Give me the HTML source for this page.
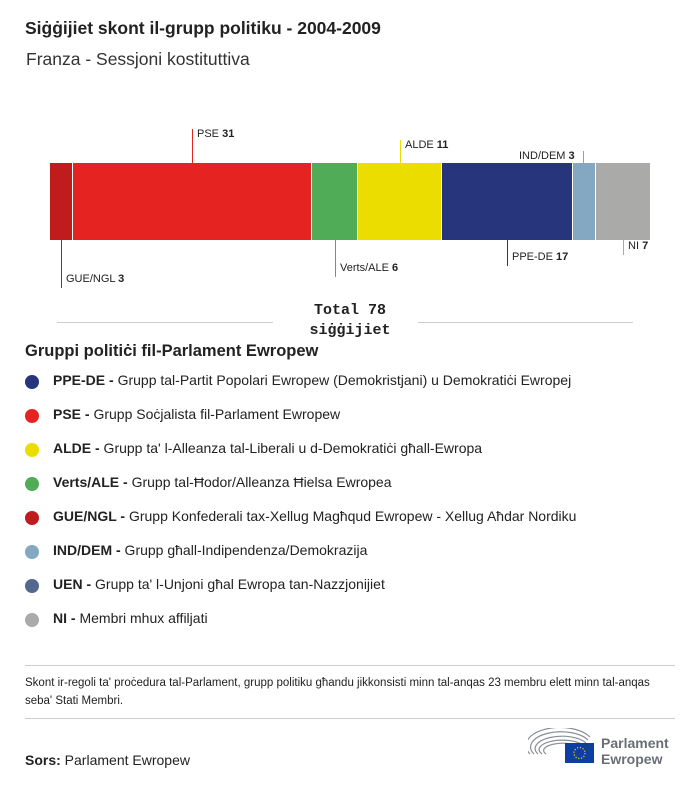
<!DOCTYPE html>
<html><head><meta charset="utf-8"><style>
body{margin:0;width:700px;height:786px;background:#fff;font-family:"Liberation Sans",sans-serif;color:#222;position:relative;overflow:hidden}
.a{position:absolute;white-space:nowrap}
.lb{font-size:11px;position:absolute;white-space:nowrap}
.vl{position:absolute;width:1px}
.it{position:absolute;left:53px;font-size:14px;white-space:nowrap}
.dot{position:absolute;left:25px;width:14px;height:14px;border-radius:50%}
</style></head><body>
<div class="a" style="left:25px;top:18px;font-size:17.5px;font-weight:bold">Siġġijiet skont il-grupp politiku - 2004-2009</div>
<div class="a" style="left:26px;top:49px;font-size:17.5px;color:#333">Franza - Sessjoni kostituttiva</div>

<div style="position:absolute;top:163px;height:77px;left:50px;width:22px;background:#c01c1e"></div>
<div style="position:absolute;top:163px;height:77px;left:73px;width:238px;background:#e52421"></div>
<div style="position:absolute;top:163px;height:77px;left:312px;width:45px;background:#50ac56"></div>
<div style="position:absolute;top:163px;height:77px;left:358px;width:83px;background:#ebdd00"></div>
<div style="position:absolute;top:163px;height:77px;left:442px;width:130px;background:#27357c"></div>
<div style="position:absolute;top:163px;height:77px;left:573px;width:22px;background:#84a8c1"></div>
<div style="position:absolute;top:163px;height:77px;left:596px;width:54px;background:#aaaaa9"></div>

<div class="vl" style="left:192px;top:129px;height:34px;background:#e52421"></div>
<div class="lb" style="left:197px;top:128px">PSE <b>31</b></div>
<div class="vl" style="left:400px;top:140px;height:23px;background:#ebdd00"></div>
<div class="lb" style="left:405px;top:139px">ALDE <b>11</b></div>
<div class="vl" style="left:583px;top:151px;height:12px;background:#84a8c1"></div>
<div class="lb" style="left:519px;top:150px">IND/DEM <b>3</b></div>
<div class="vl" style="left:61px;top:240px;height:48px;background:#c01c1e"></div>
<div class="lb" style="left:66px;top:273px">GUE/NGL <b>3</b></div>
<div class="vl" style="left:335px;top:240px;height:37px;background:#50ac56"></div>
<div class="lb" style="left:340px;top:262px">Verts/ALE <b>6</b></div>
<div class="vl" style="left:507px;top:240px;height:26px;background:#27357c"></div>
<div class="lb" style="left:512px;top:251px">PPE-DE <b>17</b></div>
<div class="vl" style="left:623px;top:240px;height:15px;background:#aaa"></div>
<div class="lb" style="left:628px;top:240px">NI <b>7</b></div>

<div style="position:absolute;left:57px;width:216px;top:322px;height:1px;background:#ccc"></div>
<div style="position:absolute;left:418px;width:215px;top:322px;height:1px;background:#ccc"></div>
<div class="a" style="left:0;width:700px;text-align:center;top:301px;font:bold 15px/20px 'Liberation Mono',monospace">Total 78<br>siġġijiet</div>

<div class="a" style="left:25px;top:342px;font-size:16.5px;font-weight:bold">Gruppi politiċi fil-Parlament Ewropew</div>
<div class="dot" style="top:375px;background:#27357c"></div><div class="it" style="top:372px"><b>PPE-DE -</b> Grupp tal-Partit Popolari Ewropew (Demokristjani) u Demokratiċi Ewropej</div>
<div class="dot" style="top:409px;background:#e52421"></div><div class="it" style="top:406px"><b>PSE -</b> Grupp Soċjalista fil-Parlament Ewropew</div>
<div class="dot" style="top:443px;background:#ebdd00"></div><div class="it" style="top:440px"><b>ALDE -</b> Grupp ta' l-Alleanza tal-Liberali u d-Demokratiċi għall-Ewropa</div>
<div class="dot" style="top:477px;background:#50ac56"></div><div class="it" style="top:474px"><b>Verts/ALE -</b> Grupp tal-Ħodor/Alleanza Ħielsa Ewropea</div>
<div class="dot" style="top:511px;background:#c01c1e"></div><div class="it" style="top:508px"><b>GUE/NGL -</b> Grupp Konfederali tax-Xellug Magħqud Ewropew - Xellug Aħdar Nordiku</div>
<div class="dot" style="top:545px;background:#84a8c1"></div><div class="it" style="top:542px"><b>IND/DEM -</b> Grupp għall-Indipendenza/Demokrazija</div>
<div class="dot" style="top:579px;background:#54678f"></div><div class="it" style="top:576px"><b>UEN -</b> Grupp ta' l-Unjoni għal Ewropa tan-Nazzjonijiet</div>
<div class="dot" style="top:613px;background:#aaaaa9"></div><div class="it" style="top:610px"><b>NI -</b> Membri mhux affiljati</div>

<div style="position:absolute;left:25px;width:650px;top:665px;height:1px;background:#ccc"></div>
<div class="a" style="left:25px;top:674px;font-size:11.5px;line-height:18px;white-space:normal;width:650px">Skont ir-regoli ta' proċedura tal-Parlament, grupp politiku għandu jikkonsisti minn tal-anqas 23 membru elett minn tal-anqas seba' Stati Membri.</div>
<div style="position:absolute;left:25px;width:650px;top:718px;height:1px;background:#ccc"></div>
<div class="a" style="left:25px;top:752px;font-size:14px"><b>Sors:</b> Parlament Ewropew</div>

<svg style="position:absolute;left:528px;top:728px" width="70" height="36">
<g fill="none" stroke="#8a8f96" stroke-width="1.2">
<path d="M6 26 A28 14 0 0 1 60 12"/><path d="M10 26 A24 11 0 0 1 58 15"/><path d="M14 26 A20 8 0 0 1 55 17"/><path d="M2 26 A32 17 0 0 1 62 9"/><path d="M18 26 A16 6 0 0 1 52 19"/>
</g>
<rect x="37" y="15" width="29" height="20" fill="#0d3fa0"/>
<circle cx="51.5" cy="25" r="5.5" fill="none" stroke="#ffd400" stroke-width="1.2" stroke-dasharray="1.2 1.7"/>
</svg>
<div class="a" style="left:601px;top:735px;font-size:14px;font-weight:bold;color:#6b6f75;line-height:16px">Parlament<br>Ewropew</div>
</body></html>
